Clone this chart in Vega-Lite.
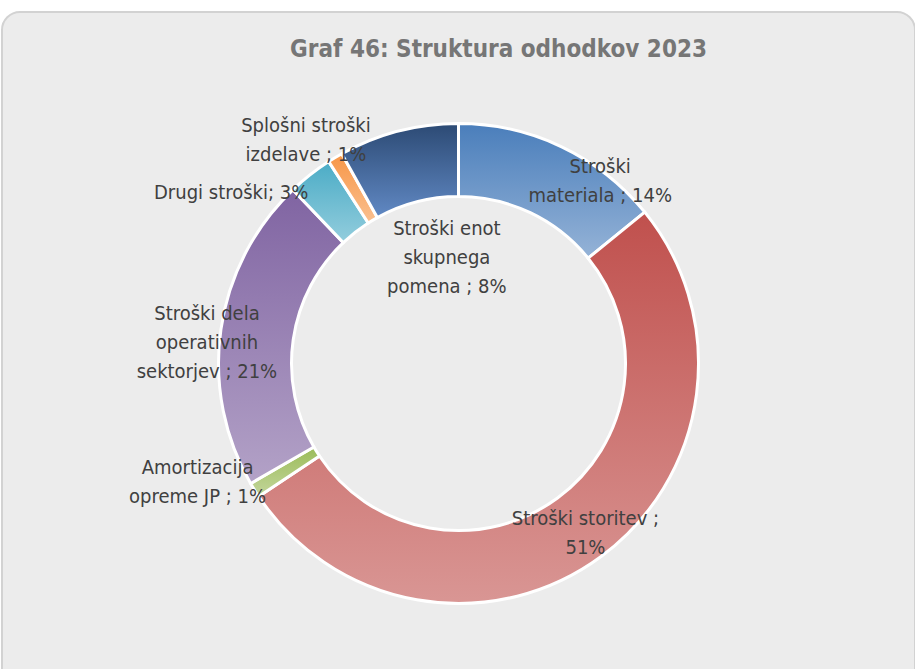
{
  "$schema": "https://vega.github.io/schema/vega-lite/v6.json",
  "width": 913,
  "height": 703,
  "autosize": {"type": "none"},
  "padding": {"left": 2, "top": 12, "right": 0, "bottom": 0},
  "background": "white",
  "view": {"fill": "#ececec", "stroke": "#d2d2d2", "strokeWidth": 2, "cornerRadius": 18},
  "title": {
    "text": "Graf 46: Struktura odhodkov 2023",
    "font": "DejaVu Sans Condensed, sans-serif",
    "fontSize": 24,
    "fontWeight": "bold",
    "color": "#767676",
    "anchor": "middle",
    "baseline": "alphabetic",
    "offset": -69,
    "dx": 40
  },
  "config": {
    "view": {"fill": "#ececec", "stroke": "#d2d2d2", "strokeWidth": 2, "cornerRadius": 18}
  },
  "data": {
    "values": [
      {"category": "materiala", "order": 1, "value": 14, "label": "Stroški\nmateriala ; 14%"},
      {"category": "storitev", "order": 2, "value": 51, "label": "Stroški storitev ;\n51%"},
      {"category": "amortizacija", "order": 3, "value": 1, "label": "Amortizacija\nopreme JP ; 1%"},
      {"category": "dela", "order": 4, "value": 21, "label": "Stroški dela\noperativnih\nsektorjev ; 21%"},
      {"category": "drugi", "order": 5, "value": 3, "label": "Drugi stroški; 3%"},
      {"category": "splosni", "order": 6, "value": 1, "label": "Splošni stroški\nizdelave ; 1%"},
      {"category": "enot", "order": 7, "value": 8, "label": "Stroški enot\nskupnega\npomena ; 8%"}
    ]
  },
  "transform": [
    {"stack": "value", "groupby": [], "sort": [{"field": "order", "order": "ascending"}], "as": ["v0", "v1"]}
  ],
  "layer": [
    {
      "transform": [{"filter": "datum.category == 'materiala'"}],
      "mark": {"type": "arc", "radius": 240, "radius2": 167, "stroke": "white", "strokeWidth": 3,
        "fill": {"gradient": "linear", "x1": 0, "y1": 0, "x2": 0, "y2": 1, "stops": [{"offset": 0, "color": "#4a7ebb"}, {"offset": 1, "color": "#95b3d7"}]}},
      "encoding": {
        "theta": {"field": "v0", "type": "quantitative", "stack": null, "scale": {"domain": [0, 99]}},
        "theta2": {"field": "v1"}
      }
    },
    {
      "transform": [{"filter": "datum.category == 'storitev'"}],
      "mark": {"type": "arc", "radius": 240, "radius2": 167, "stroke": "white", "strokeWidth": 3,
        "fill": {"gradient": "linear", "x1": 0, "y1": 0, "x2": 0, "y2": 1, "stops": [{"offset": 0, "color": "#c0504d"}, {"offset": 1, "color": "#d99694"}]}},
      "encoding": {
        "theta": {"field": "v0", "type": "quantitative", "stack": null, "scale": {"domain": [0, 99]}},
        "theta2": {"field": "v1"}
      }
    },
    {
      "transform": [{"filter": "datum.category == 'amortizacija'"}],
      "mark": {"type": "arc", "radius": 240, "radius2": 167, "stroke": "white", "strokeWidth": 3,
        "fill": {"gradient": "linear", "x1": 0, "y1": 0, "x2": 0, "y2": 1, "stops": [{"offset": 0, "color": "#9bbb59"}, {"offset": 1, "color": "#c3d69b"}]}},
      "encoding": {
        "theta": {"field": "v0", "type": "quantitative", "stack": null, "scale": {"domain": [0, 99]}},
        "theta2": {"field": "v1"}
      }
    },
    {
      "transform": [{"filter": "datum.category == 'dela'"}],
      "mark": {"type": "arc", "radius": 240, "radius2": 167, "stroke": "white", "strokeWidth": 3,
        "fill": {"gradient": "linear", "x1": 0, "y1": 0, "x2": 0, "y2": 1, "stops": [{"offset": 0, "color": "#8064a2"}, {"offset": 1, "color": "#b3a2c7"}]}},
      "encoding": {
        "theta": {"field": "v0", "type": "quantitative", "stack": null, "scale": {"domain": [0, 99]}},
        "theta2": {"field": "v1"}
      }
    },
    {
      "transform": [{"filter": "datum.category == 'drugi'"}],
      "mark": {"type": "arc", "radius": 240, "radius2": 167, "stroke": "white", "strokeWidth": 3,
        "fill": {"gradient": "linear", "x1": 0, "y1": 0, "x2": 0, "y2": 1, "stops": [{"offset": 0, "color": "#4bacc6"}, {"offset": 1, "color": "#93cddd"}]}},
      "encoding": {
        "theta": {"field": "v0", "type": "quantitative", "stack": null, "scale": {"domain": [0, 99]}},
        "theta2": {"field": "v1"}
      }
    },
    {
      "transform": [{"filter": "datum.category == 'splosni'"}],
      "mark": {"type": "arc", "radius": 240, "radius2": 167, "stroke": "white", "strokeWidth": 3,
        "fill": {"gradient": "linear", "x1": 0, "y1": 0, "x2": 0, "y2": 1, "stops": [{"offset": 0, "color": "#f79646"}, {"offset": 1, "color": "#fac090"}]}},
      "encoding": {
        "theta": {"field": "v0", "type": "quantitative", "stack": null, "scale": {"domain": [0, 99]}},
        "theta2": {"field": "v1"}
      }
    },
    {
      "transform": [{"filter": "datum.category == 'enot'"}],
      "mark": {"type": "arc", "radius": 240, "radius2": 167, "stroke": "white", "strokeWidth": 3,
        "fill": {"gradient": "linear", "x1": 0, "y1": 0, "x2": 0, "y2": 1, "stops": [{"offset": 0, "color": "#2c4a74"}, {"offset": 1, "color": "#6189c4"}]}},
      "encoding": {
        "theta": {"field": "v0", "type": "quantitative", "stack": null, "scale": {"domain": [0, 99]}},
        "theta2": {"field": "v1"}
      }
    },
    {
      "transform": [{"filter": "datum.category == 'materiala'"}, {"fold": ["v0", "v1"], "as": ["bound", "pos"]}],
      "mark": {"type": "text", "radius": 204, "dx": 54, "dy": -12, "align": "center", "baseline": "middle", "lineBreak": "\n", "lineHeight": 29, "font": "DejaVu Sans Condensed, sans-serif", "fontSize": 20, "fill": "#404040"},
      "encoding": {
        "theta": {"aggregate": "mean", "field": "pos", "type": "quantitative", "stack": null, "scale": {"domain": [0, 99]}},
        "text": {"field": "label", "type": "nominal"}
      }
    },
    {
      "transform": [{"filter": "datum.category == 'storitev'"}, {"fold": ["v0", "v1"], "as": ["bound", "pos"]}],
      "mark": {"type": "text", "radius": 204, "dx": 6, "dy": -9, "align": "center", "baseline": "middle", "lineBreak": "\n", "lineHeight": 29, "font": "DejaVu Sans Condensed, sans-serif", "fontSize": 20, "fill": "#404040"},
      "encoding": {
        "theta": {"aggregate": "mean", "field": "pos", "type": "quantitative", "stack": null, "scale": {"domain": [0, 99]}},
        "text": {"field": "label", "type": "nominal"}
      }
    },
    {
      "transform": [{"filter": "datum.category == 'amortizacija'"}, {"fold": ["v0", "v1"], "as": ["bound", "pos"]}],
      "mark": {"type": "text", "radius": 240, "dx": -57, "dy": -22, "align": "center", "baseline": "middle", "lineBreak": "\n", "lineHeight": 29, "font": "DejaVu Sans Condensed, sans-serif", "fontSize": 20, "fill": "#404040"},
      "encoding": {
        "theta": {"aggregate": "mean", "field": "pos", "type": "quantitative", "stack": null, "scale": {"domain": [0, 99]}},
        "text": {"field": "label", "type": "nominal"}
      }
    },
    {
      "transform": [{"filter": "datum.category == 'dela'"}, {"fold": ["v0", "v1"], "as": ["bound", "pos"]}],
      "mark": {"type": "text", "radius": 240, "dx": -14, "dy": -15, "align": "center", "baseline": "middle", "lineBreak": "\n", "lineHeight": 29, "font": "DejaVu Sans Condensed, sans-serif", "fontSize": 20, "fill": "#404040"},
      "encoding": {
        "theta": {"aggregate": "mean", "field": "pos", "type": "quantitative", "stack": null, "scale": {"domain": [0, 99]}},
        "text": {"field": "label", "type": "nominal"}
      }
    },
    {
      "transform": [{"filter": "datum.category == 'drugi'"}, {"fold": ["v0", "v1"], "as": ["bound", "pos"]}],
      "mark": {"type": "text", "radius": 240, "dx": -79, "dy": 18, "align": "center", "baseline": "middle", "lineBreak": "\n", "lineHeight": 29, "font": "DejaVu Sans Condensed, sans-serif", "fontSize": 20, "fill": "#404040"},
      "encoding": {
        "theta": {"aggregate": "mean", "field": "pos", "type": "quantitative", "stack": null, "scale": {"domain": [0, 99]}},
        "text": {"field": "label", "type": "nominal"}
      }
    },
    {
      "transform": [{"filter": "datum.category == 'splosni'"}, {"fold": ["v0", "v1"], "as": ["bound", "pos"]}],
      "mark": {"type": "text", "radius": 260, "dx": -19, "dy": -14, "align": "center", "baseline": "middle", "lineBreak": "\n", "lineHeight": 29, "font": "DejaVu Sans Condensed, sans-serif", "fontSize": 20, "fill": "#404040"},
      "encoding": {
        "theta": {"aggregate": "mean", "field": "pos", "type": "quantitative", "stack": null, "scale": {"domain": [0, 99]}},
        "text": {"field": "label", "type": "nominal"}
      }
    },
    {
      "transform": [{"filter": "datum.category == 'enot'"}, {"fold": ["v0", "v1"], "as": ["bound", "pos"]}],
      "mark": {"type": "text", "radius": 110, "dx": 16, "dy": -28, "align": "center", "baseline": "middle", "lineBreak": "\n", "lineHeight": 29, "font": "DejaVu Sans Condensed, sans-serif", "fontSize": 20, "fill": "#404040"},
      "encoding": {
        "theta": {"aggregate": "mean", "field": "pos", "type": "quantitative", "stack": null, "scale": {"domain": [0, 99]}},
        "text": {"field": "label", "type": "nominal"}
      }
    }
  ]
}
